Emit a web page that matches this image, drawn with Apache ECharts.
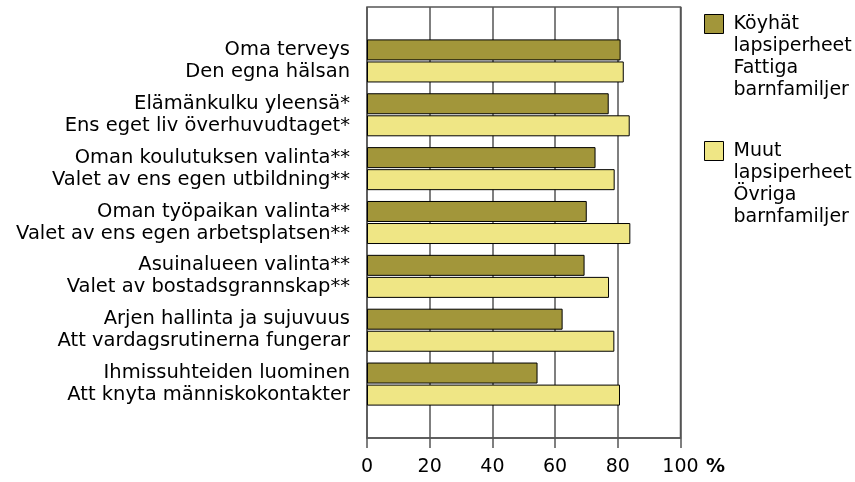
<!DOCTYPE html>
<html>
<head>
<meta charset="utf-8">
<script src="https://cdn.jsdelivr.net/npm/echarts@6/dist/echarts.min.js"></script>
<style>
  html, body { margin: 0; padding: 0; background: #fff; }
  #chart { width: 855px; height: 482px; }
</style>
</head>
<body>
<div id="chart"></div>
<script>
// categories (Finnish / Swedish)
const categories = [
  "Oma terveys\nDen egna hälsan",
  "Elämänkulku yleensä*\nEns eget liv överhuvudtaget*",
  "Oman koulutuksen valinta**\nValet av ens egen utbildning**",
  "Oman työpaikan valinta**\nValet av ens egen arbetsplatsen**",
  "Asuinalueen valinta**\nValet av bostadsgrannskap**",
  "Arjen hallinta ja sujuvuus\nAtt vardagsrutinerna fungerar",
  "Ihmissuhteiden luominen\nAtt knyta människokontakter"
];
const seriesNames = [
  "Köyhät\nlapsiperheet\nFattiga\nbarnfamiljer",
  "Muut\nlapsiperheet\nÖvriga\nbarnfamiljer"
];
const poorValues = [80.9, 77.1, 72.9, 70.1, 69.4, 62.4, 54.4];
const otherValues = [81.9, 83.8, 79.0, 84.0, 77.2, 78.9, 80.7];
const xTicks = [0, 20, 40, 60, 80, 100];

const font = "DejaVu Sans";
const chart = echarts.init(document.getElementById("chart"));

// legend text hangs down from the icon: pad with empty lines on top
const legendText = {
  fontFamily: font,
  fontSize: 19,
  lineHeight: 22,
  color: "#000",
  padding: [0, 0, 0, 5]
};
function legendCfg(name, top) {
  return {
    data: [name], orient: "vertical", left: 704, top: top, padding: 0,
    icon: "rect", itemWidth: 19, itemHeight: 19, textStyle: legendText,
    formatter: (n) => "\n\n\n" + n,
    itemStyle: { borderColor: "#000", borderWidth: 1 }
  };
}

const option = {
  animation: false,
  textStyle: { fontFamily: font },
  grid: [
    // frame + gridlines
    { left: 367, right: 174.5, top: 7, bottom: 44, show: true,
      borderColor: "#555", borderWidth: 1.5, backgroundColor: "transparent" },
    // bars
    { left: 367, right: 174.5, top: 34, bottom: 71 }
  ],
  legend: [legendCfg(seriesNames[0], -53), legendCfg(seriesNames[1], 74)],
  xAxis: [
    {
      gridIndex: 0, type: "value", min: 0, max: 100, interval: 20,
      axisLine: { show: true, lineStyle: { color: "#555", width: 1.5 } },
      axisTick: { show: true, length: 10, lineStyle: { color: "#555", width: 1.5 } },
      splitLine: { show: true, lineStyle: { color: "#555", width: 1.5 } },
      axisLabel: { fontSize: 19, color: "#000", margin: 20, fontFamily: font,
        customValues: xTicks }
    },
    { gridIndex: 1, type: "value", min: 0, max: 100, show: false }
  ],
  yAxis: [
    { gridIndex: 0, type: "value", show: false },
    {
      gridIndex: 1, type: "category", data: categories, inverse: true,
      axisLine: { show: false }, axisTick: { show: false }, splitLine: { show: false },
      axisLabel: { fontSize: 19.5, lineHeight: 22, color: "#000", margin: 17,
        align: "right", fontFamily: font }
    }
  ],
  graphic: [
    { type: "text", left: 706, top: 458,
      style: { text: "%", fontFamily: font, fontSize: 19, fontWeight: "bold", fill: "#000" } }
  ],
  series: [
    {
      name: seriesNames[0], type: "bar", xAxisIndex: 1, yAxisIndex: 1,
      data: poorValues, barWidth: 21, barGap: "5%",
      itemStyle: { color: "#A2963A", borderColor: "#000", borderWidth: 1 }
    },
    {
      name: seriesNames[1], type: "bar", xAxisIndex: 1, yAxisIndex: 1,
      data: otherValues, barWidth: 21, barGap: "5%",
      itemStyle: { color: "#EFE685", borderColor: "#000", borderWidth: 1 }
    }
  ]
};

chart.setOption(option);
</script>
</body>
</html>
